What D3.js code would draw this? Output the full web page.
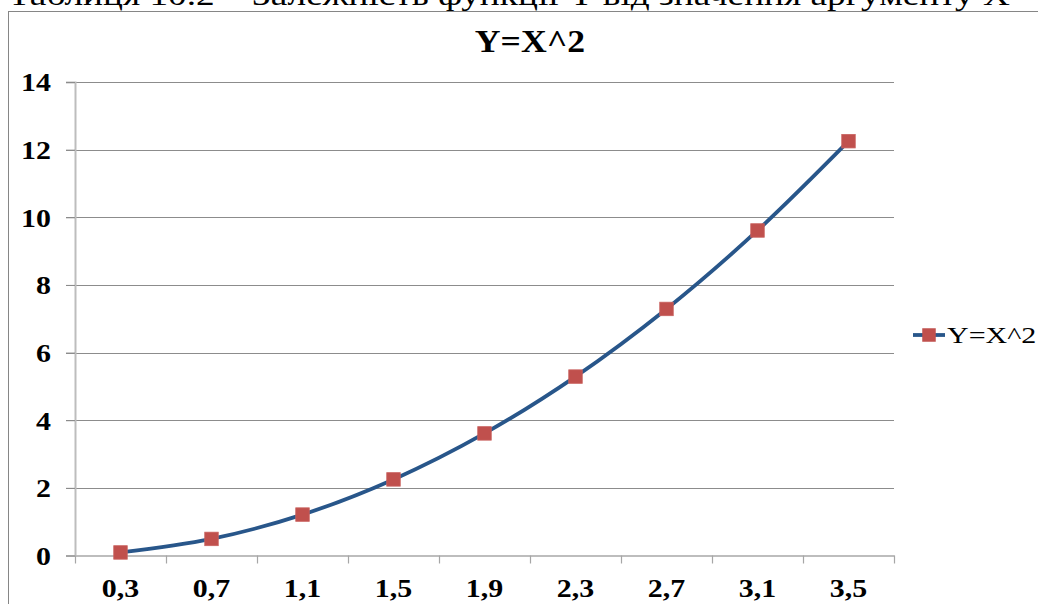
<!DOCTYPE html>
<html>
<head>
<meta charset="utf-8">
<script src="https://cdn.jsdelivr.net/npm/d3@7"></script>
<style>
  html, body { margin: 0; padding: 0; background: #fff; }
  svg { display: block; }
</style>
</head>
<body>
<svg id="chart" width="1038" height="604"></svg>
<script>
// Function table: Y = X^2
const categories = ["0,3", "0,7", "1,1", "1,5", "1,9", "2,3", "2,7", "3,1", "3,5"];
const yValues = [0.09, 0.49, 1.21, 2.25, 3.61, 5.29, 7.29, 9.61, 12.25];
const yTicks = [0, 2, 4, 6, 8, 10, 12, 14];
const seriesName = "Y=X^2";
const chartTitle = "Y=X^2";
const caption = "Таблиця 10.2 – Залежність функції Y від значення аргументу X";

const svg = d3.select("#chart");
const serif = "Liberation Serif";
const SX = 1.15; // horizontal text stretch

const lineColor = "#28568A";
const markerColor = "#C0504D";

// caption line above the chart frame
svg.append("text")
  .attr("x", 8).attr("y", 5)
  .attr("textLength", 1002).attr("lengthAdjust", "spacingAndGlyphs")
  .attr("font-family", serif).attr("font-size", 30).attr("fill", "#000")
  .text(caption);

// chart frame
svg.append("rect")
  .attr("x", 8.5).attr("y", 11.5).attr("width", 1040).attr("height", 620)
  .attr("fill", "#fff").attr("stroke", "#868686").attr("stroke-width", 1);

// title
svg.append("g").attr("transform", `translate(530,52) scale(${SX},1)`)
  .append("text").attr("text-anchor", "middle")
  .attr("font-family", serif).attr("font-size", 31).attr("font-weight", "bold")
  .text(chartTitle);

const x = d3.scaleBand().domain(categories).range([75, 894]);
const y = d3.scaleLinear().domain([0, 14]).range([555.5, 82]);

// horizontal gridlines
svg.append("g").selectAll("line").data(yTicks.filter(d => d > 0)).join("line")
  .attr("x1", 66).attr("x2", 894)
  .attr("y1", d => Math.round(y(d)) + 0.5).attr("y2", d => Math.round(y(d)) + 0.5)
  .attr("stroke", "#8C8C8C").attr("stroke-width", 1);

// y axis
const yAxis = svg.append("g").attr("transform", "translate(75,0)")
  .call(d3.axisLeft(y).tickValues(yTicks).tickSize(9).tickFormat(d3.format("d")));
yAxis.attr("font-family", serif);
yAxis.select(".domain").attr("stroke", "#BDBDBD").attr("stroke-width", 2);
yAxis.selectAll(".tick line").attr("stroke", "#8C8C8C");
yAxis.selectAll(".tick text")
  .attr("x", -24 / SX).attr("dy", "0.34em")
  .attr("transform", `scale(${SX},1)`)
  .attr("font-size", 26).attr("font-weight", "bold")
  .attr("fill", "#000");

// x axis: labels at category centres, tick marks on category boundaries
const xAxis = svg.append("g").attr("transform", `translate(0,${y(0)})`)
  .call(d3.axisBottom(x).tickSize(0).tickPadding(0));
xAxis.attr("font-family", serif);
xAxis.select(".domain").attr("stroke", "#BDBDBD").attr("stroke-width", 2);
xAxis.selectAll(".tick text")
  .attr("y", 0).attr("dy", 0)
  .attr("font-size", 26).attr("font-weight", "bold")
  .attr("fill", "#000")
  .attr("transform", `translate(0,41) scale(${SX},1)`);
const bounds = categories.map(c => x(c)).concat([x(categories[categories.length - 1]) + x.bandwidth()]);
xAxis.append("g").selectAll("line").data(bounds).join("line")
  .attr("x1", d => Math.round(d) + 0.5).attr("x2", d => Math.round(d) + 0.5)
  .attr("y1", 0).attr("y2", 8)
  .attr("stroke", "#A6A6A6").attr("stroke-width", 1.2);

// smoothed series line
const pts = categories.map((c, i) => [x(c) + x.bandwidth() / 2, y(yValues[i])]);
svg.append("path")
  .attr("d", d3.line().curve(d3.curveCatmullRom.alpha(0.5))(pts))
  .attr("fill", "none").attr("stroke", lineColor).attr("stroke-width", 3.8)
  .attr("stroke-linejoin", "round");

// square markers
const ms = 13.5;
svg.append("g").selectAll("rect").data(pts).join("rect")
  .attr("x", d => d[0] - ms / 2).attr("y", d => d[1] - ms / 2)
  .attr("width", ms).attr("height", ms)
  .attr("fill", markerColor).attr("stroke", "#C9625F").attr("stroke-width", 0.8);

// legend
const lg = svg.append("g").attr("transform", "translate(913,335)");
lg.append("line").attr("x1", 0).attr("x2", 32).attr("y1", 0).attr("y2", 0)
  .attr("stroke", lineColor).attr("stroke-width", 3.8);
lg.append("rect").attr("x", 16 - ms / 2).attr("y", -ms / 2).attr("width", ms).attr("height", ms)
  .attr("fill", markerColor);
lg.append("g").attr("transform", `translate(34,8) scale(1.25,1)`)
  .append("text")
  .attr("font-family", serif).attr("font-size", 24)
  .attr("fill", "#000").text(seriesName);
</script>
</body>
</html>
